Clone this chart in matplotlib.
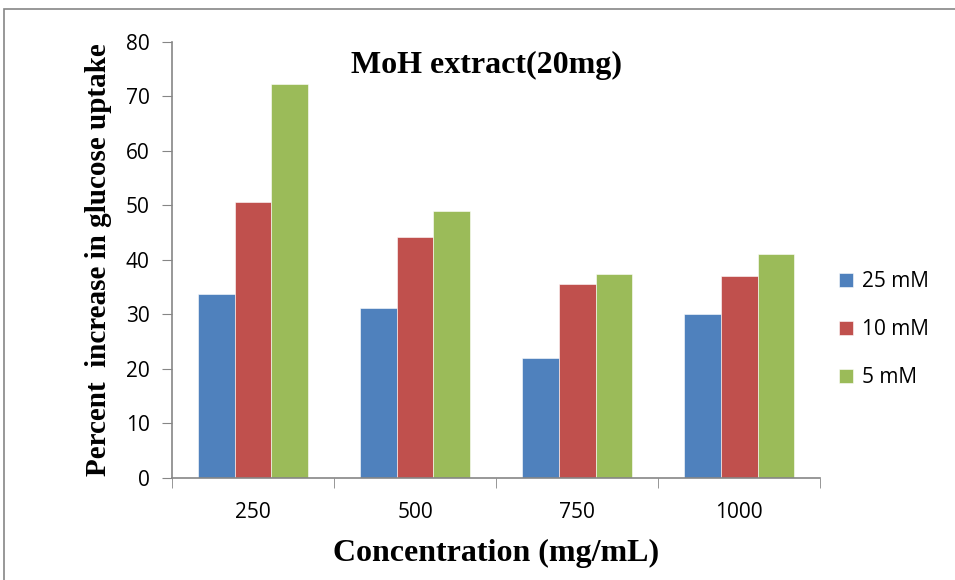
import matplotlib
matplotlib.use('Agg')
import matplotlib.pyplot as plt
import numpy as np

concentrations = ['250', '500', '750', '1000']
series_names = ['25 mM', '10 mM', '5 mM']
uptake_25mm = [33.8, 31.1, 22.0, 30.0]
uptake_10mm = [50.6, 44.1, 35.5, 37.0]
uptake_5mm = [72.2, 48.9, 37.4, 41.0]
colors = ['#4F81BD', '#C0504D', '#9BBB59']


def plot_bars(name='out'):
    fig = plt.figure(figsize=(9.55, 5.8), dpi=100)
    ax = fig.add_axes([0.180, 0.176, 0.679, 0.752])

    x = np.arange(len(concentrations))
    width = 0.227
    for i, (vals, label) in enumerate(zip([uptake_25mm, uptake_10mm, uptake_5mm],
                                          series_names)):
        ax.bar(x + (i - 1) * width, vals, width, color=colors[i], label=label,
               edgecolor='white', linewidth=0.4)

    ax.set_xlim(-0.5, len(concentrations) - 0.5)
    ax.set_ylim(0, 80)
    ax.set_yticks(range(0, 81, 10))
    ax.set_xticks(x)
    ax.set_xticklabels(concentrations)
    ax.set_xticks(np.arange(-0.5, len(concentrations), 1.0), minor=True)
    ax.tick_params(axis='x', which='major', length=0, pad=17)
    ax.tick_params(axis='x', which='minor', length=7, color='#868686')
    ax.tick_params(axis='y', length=7, color='#868686', direction='out', pad=9)
    for lab in ax.get_xticklabels() + ax.get_yticklabels():
        lab.set_fontfamily('Open Sans')
        lab.set_fontsize(15)

    for side in ['top', 'right']:
        ax.spines[side].set_visible(False)
    for side in ['left', 'bottom']:
        ax.spines[side].set_color('#868686')
        ax.spines[side].set_linewidth(1.2)

    ax.text(0.485, 0.945, 'MoH extract(20mg)', transform=ax.transAxes,
            ha='center', va='center', fontsize=23, family='Liberation Serif',
            weight='bold')
    ax.set_ylabel('Percent  increase in glucose uptake', fontsize=21,
                  family='Liberation Serif', weight='bold', labelpad=10)
    ax.set_xlabel('Concentration (mg/mL)', fontsize=23,
                  family='Liberation Serif', weight='bold', labelpad=12)

    ax.legend(loc='center left', bbox_to_anchor=(1.0, 0.34),
              frameon=False, prop={'family': 'Open Sans', 'size': 15},
              handlelength=0.65, handleheight=0.65, labelspacing=1.3,
              handletextpad=0.45, borderaxespad=0.5)

    border = plt.Rectangle((0.004, -0.05), 1.1, 1.035, transform=fig.transFigure,
                           fill=False, edgecolor='#868686', linewidth=1.2)
    fig.patches.append(border)

    fig.savefig('{}.png'.format(name), dpi=100)
    plt.close(fig)


if __name__ == '__main__':
    plot_bars()
